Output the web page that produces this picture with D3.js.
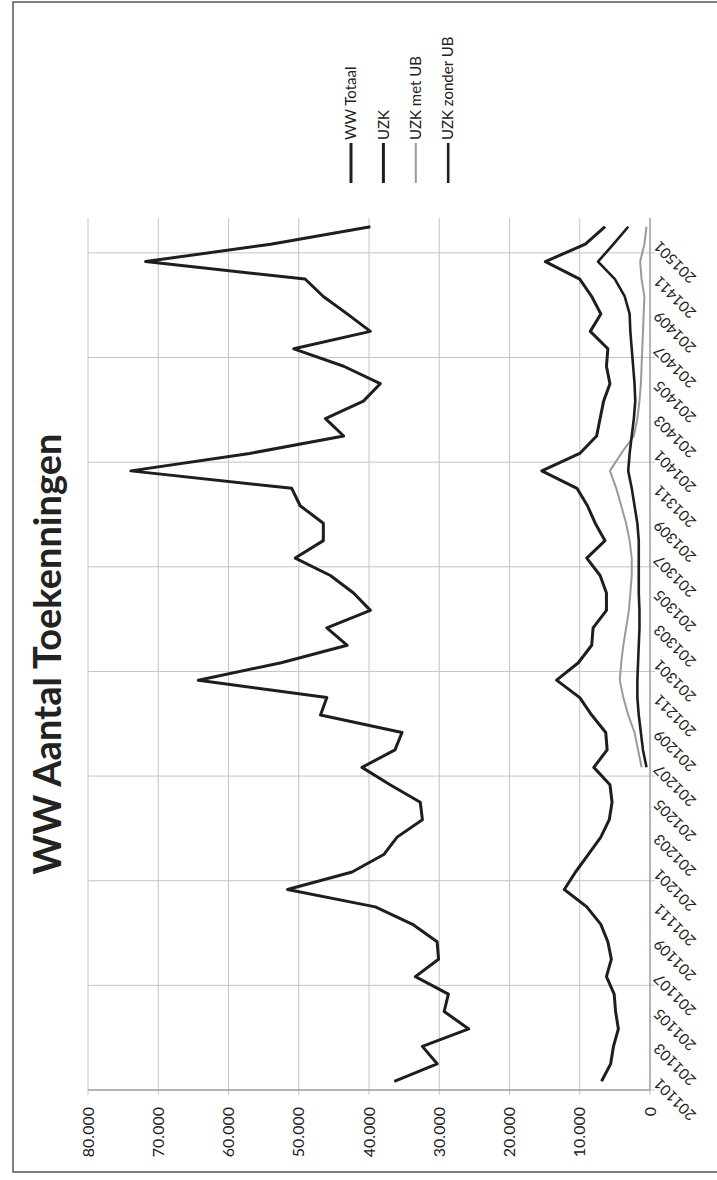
<!DOCTYPE html>
<html>
<head>
<meta charset="utf-8">
<script src="https://cdn.jsdelivr.net/npm/d3@7"></script>
<style>
    body { margin: 0; background: #fff; }
    text { font-family: Lato, 'Liberation Sans', sans-serif; fill: #222; }
</style>
</head>
<body>
<svg id="drawing_region"></svg>
<script>
// the scanned page is turned a quarter: the chart is drawn upright and then rotated
const months = [
    '201101','201102','201103','201104','201105','201106','201107','201108','201109','201110','201111','201112',
    '201201','201202','201203','201204','201205','201206','201207','201208','201209','201210','201211','201212',
    '201301','201302','201303','201304','201305','201306','201307','201308','201309','201310','201311','201312',
    '201401','201402','201403','201404','201405','201406','201407','201408','201409','201410','201411','201412',
    '201501','201502'
];
const ww_totaal = [
    36400, 30300, 32400, 25800, 29300, 28700, 33400, 30100, 30300, 33800, 39100, 51600,
    42400, 37900, 36000, 32400, 32700, 37000, 41000, 36300, 35300, 46900, 46000, 64300,
    52500, 43100, 46000, 39800, 42200, 45500, 50500, 46500, 46500, 49800, 51000, 73900,
    57000, 43600, 46200, 40800, 38400, 43600, 50700, 39800, 43100, 46500, 49100, 71800,
    54000, 39800
];
const uzk = [
    6900, 5600, 5200, 4500, 4900, 5100, 6200, 5500, 6000, 7000, 9000, 12200,
    10600, 8800, 7000, 5800, 5400, 5700, 8000, 6100, 6300, 8300, 10000, 13300,
    10200, 8300, 8100, 6200, 6200, 7100, 9000, 6400, 7800, 8900, 10400, 15400,
    10000, 7600, 7100, 6600, 5700, 6200, 6000, 8500, 7000, 8300, 10000, 14900,
    9200, 6400
];
const uzk_met_ub = [
    null, null, null, null, null, null, null, null, null, null, null, null,
    null, null, null, null, null, null, 1200, 1700, 2200, 3100, 3800, 4300,
    4100, 3800, 3400, 3000, 2800, 2600, 2600, 2900, 3400, 4100, 4800, 5700,
    4100, 2300, 1800, 1500, 1300, 1200, 1100, 1000, 900, 800, 1200, 1400,
    800, 500
];
const uzk_zonder_ub = [
    null, null, null, null, null, null, null, null, null, null, null, null,
    null, null, null, null, null, null, 500, 1000, 1300, 1600, 1800, 1800,
    1700, 1600, 1500, 1500, 1600, 1600, 1600, 1600, 1800, 2200, 2600, 3100,
    2900, 2600, 2300, 2100, 2200, 2400, 2600, 2800, 2900, 3600, 5000, 7400,
    5200, 3100
];
const series_names = ['WW Totaal', 'UZK', 'UZK met UB', 'UZK zonder UB'];
const value_ticks = [0, 10000, 20000, 30000, 40000, 50000, 60000, 70000, 80000];
const tick_labels = [
    '201101','201103','201105','201107','201109','201111','201201','201203','201205','201207','201209','201211',
    '201301','201303','201305','201307','201309','201311','201401','201403','201405','201407','201409','201411',
    '201501'
];
const grid_months = ['201101','201107','201201','201207','201301','201307','201401','201407','201501'];

const nl = d3.formatLocale({ decimal: ',', thousands: '.', grouping: [3], currency: ['€', ''] });

class RotatedLineChart {
    constructor(config) {
        this.config = config;
        this.init();
    }

    init() {
        let self = this;
        const c = self.config;

        self.svg = d3.select(c.parent)
            .attr('width', c.width)
            .attr('height', c.height);

        // upright chart is c.height wide and c.width tall
        self.full_width = c.height;
        self.full_height = c.width;
        self.inner_width = self.full_width - c.margin.left - c.margin.right;
        self.inner_height = self.full_height - c.margin.top - c.margin.bottom;

        self.svg.append('rect')
            .attr('x', 13).attr('y', 2)
            .attr('width', 800).attr('height', 1170)
            .attr('fill', 'none')
            .attr('stroke', '#555')
            .attr('stroke-width', 1.5);

        self.page = self.svg.append('g')
            .attr('transform', `translate(0,${c.height}) rotate(-90)`);
        self.chart = self.page.append('g')
            .attr('transform', `translate(${c.margin.left},${c.margin.top})`);

        self.xscale = d3.scaleBand()
            .domain(months)
            .range([0, self.inner_width]);
        self.yscale = d3.scaleLinear()
            .domain([0, 80000])
            .range([self.inner_height, 0]);

        self.page.append('text')
            .attr('x', c.margin.left + self.inner_width / 2)
            .attr('y', 61)
            .attr('text-anchor', 'middle')
            .style('font-size', '38px')
            .style('font-weight', 'bold')
            .text(c.title);
    }

    render() {
        let self = this;
        const bw = self.xscale.bandwidth();

        self.chart.selectAll('.hgrid')
            .data(value_ticks)
            .join('line')
            .attr('class', 'hgrid')
            .attr('x1', -5).attr('x2', self.inner_width)
            .attr('y1', d => self.yscale(d)).attr('y2', d => self.yscale(d))
            .attr('stroke', '#c4c4c4');

        self.chart.selectAll('.vgrid')
            .data(grid_months)
            .join('line')
            .attr('class', 'vgrid')
            .attr('x1', d => self.xscale(d)).attr('x2', d => self.xscale(d))
            .attr('y1', 0).attr('y2', self.inner_height + 5)
            .attr('stroke', '#c4c4c4');

        self.chart.append('line')
            .attr('x1', 0).attr('x2', 0)
            .attr('y1', 0).attr('y2', self.inner_height)
            .attr('stroke', '#888');
        self.chart.append('line')
            .attr('x1', 0).attr('x2', self.inner_width)
            .attr('y1', self.inner_height).attr('y2', self.inner_height)
            .attr('stroke', '#888');

        self.chart.selectAll('.ylabel')
            .data(value_ticks)
            .join('text')
            .attr('class', 'ylabel')
            .attr('x', -17)
            .attr('y', d => self.yscale(d))
            .attr('dy', '0.35em')
            .attr('text-anchor', 'end')
            .style('font-size', '16px')
            .text(d => nl.format(',')(d));

        self.chart.selectAll('.xlabel')
            .data(tick_labels)
            .join('text')
            .attr('class', 'xlabel')
            .attr('transform', d => `translate(${self.xscale(d) + bw / 2 + 4},${self.inner_height + 10}) rotate(-45)`)
            .attr('text-anchor', 'end')
            .style('font-size', '15px')
            .text(d => d);

        const all_series = [
            { name: series_names[0], values: ww_totaal, color: '#1e1e1e', width: 3 },
            { name: series_names[1], values: uzk, color: '#1e1e1e', width: 3 },
            { name: series_names[2], values: uzk_met_ub, color: '#9a9a9a', width: 2 },
            { name: series_names[3], values: uzk_zonder_ub, color: '#1e1e1e', width: 2.6 }
        ];

        const line = d3.line()
            .defined(d => d.v != null)
            .x(d => self.xscale(d.m) + bw / 2)
            .y(d => self.yscale(d.v));

        self.chart.selectAll('.series')
            .data(all_series)
            .join('path')
            .attr('class', 'series')
            .attr('fill', 'none')
            .attr('stroke', d => d.color)
            .attr('stroke-width', d => d.width)
            .attr('stroke-linejoin', 'round')
            .attr('d', d => line(d.values.map((v, i) => ({ m: months[i], v: v }))));

        // legend sits to the right of the upright chart
        const legend = self.page.selectAll('.legend')
            .data(all_series)
            .join('g')
            .attr('class', 'legend')
            .attr('transform', (d, i) => `translate(997,${351 + i * 32.4})`);
        legend.append('line')
            .attr('x1', 0).attr('x2', 40)
            .attr('stroke', d => d.color)
            .attr('stroke-width', d => d.width);
        legend.append('text')
            .attr('x', 43)
            .attr('dy', '0.35em')
            .style('font-size', '15px')
            .text(d => d.name);
    }
}

const chart = new RotatedLineChart({
    parent: '#drawing_region',
    width: 717,
    height: 1180,
    margin: { top: 88, right: 218, bottom: 67, left: 90 },
    title: 'WW Aantal Toekenningen'
});
chart.render();
</script>
</body>
</html>
